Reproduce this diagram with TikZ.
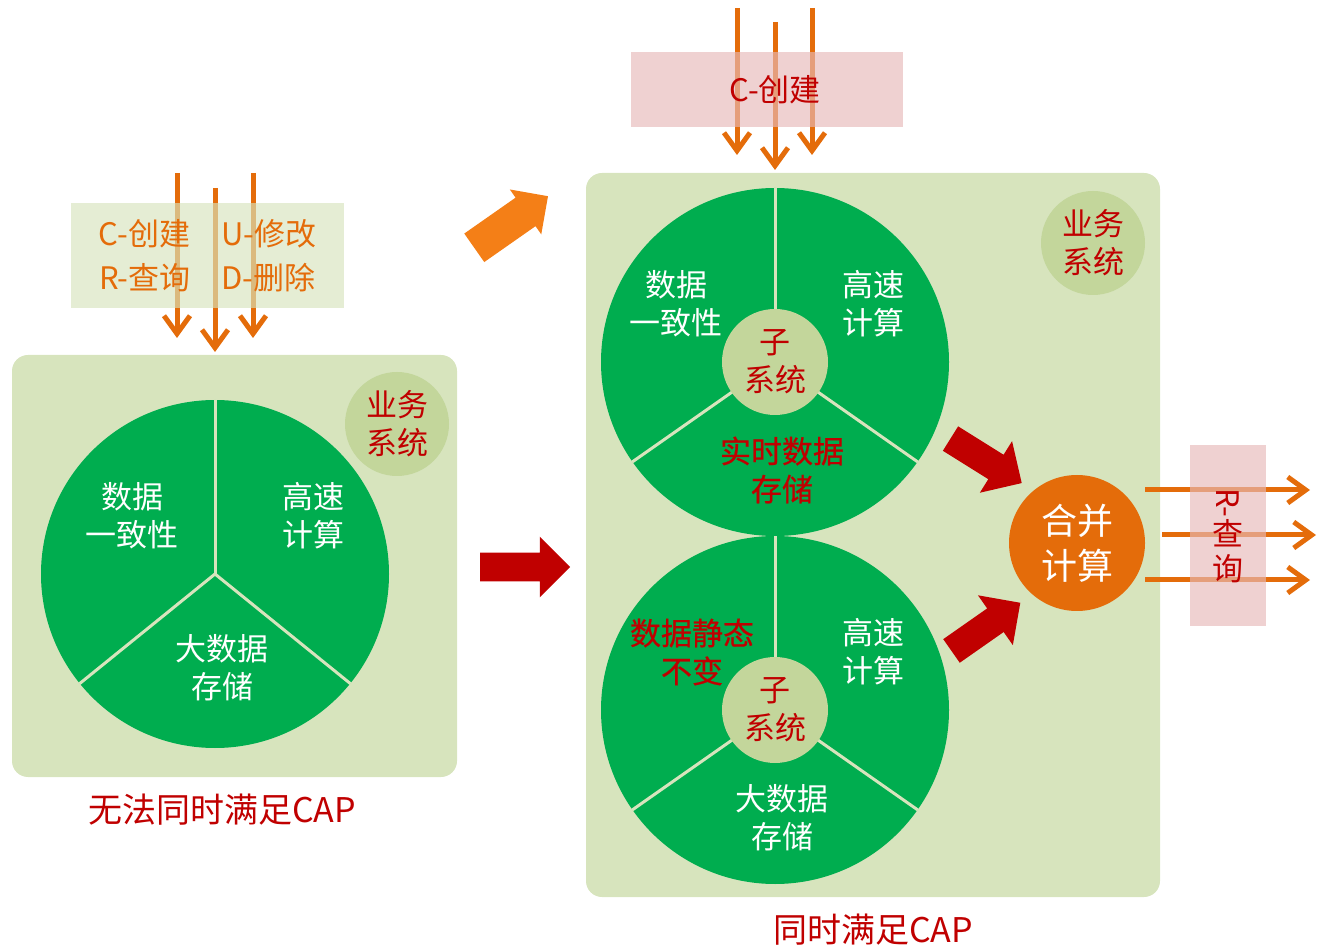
\documentclass[tikz,border=0pt]{standalone}
\usepackage{fontspec}
\setmainfont{Noto Sans CJK SC}
\newfontfamily\hotfamily{Noto Sans CJK SC}[FakeBold=0.6]
\usepackage{tikz}
\usetikzlibrary{positioning,calc,shapes,shapes.arrows,arrows.meta}
\definecolor{panelgreen}{RGB}{215,228,189}
\definecolor{piegreen}{RGB}{0,173,79}
\definecolor{subgreen}{RGB}{195,214,155}
\definecolor{myorange}{RGB}{228,108,10}
\definecolor{lightorange}{RGB}{244,127,23}
\definecolor{darkred}{RGB}{192,0,0}
\definecolor{mypink}{RGB}{230,185,184}
\newcommand*\labelfont{\fontsize{15.5}{19}\selectfont}
\newcommand*\capfont{\fontsize{17}{20}\selectfont}
\tikzstyle{panel}=[fill=panelgreen,rounded corners=8pt]
\tikzstyle{pie}=[circle,fill=piegreen,minimum size=174pt,inner sep=0pt]
\tikzstyle{divider}=[draw=panelgreen,line width=1.5pt]
\tikzstyle{sub}=[circle,fill=subgreen,minimum size=53pt,inner sep=0pt,text=darkred,align=center,font=\labelfont]
\tikzstyle{inpie}=[text=white,align=center,font=\labelfont]
\tikzstyle{hot}=[text=darkred,align=center,font=\labelfont\hotfamily]
\tikzstyle{crud}=[-{Straight Barb[length=9pt,width=13pt]},myorange,line width=2.5pt]
\tikzstyle{crudbox}=[fill opacity=0.65,text opacity=1,inner sep=0pt,align=center,font=\labelfont]
\tikzstyle{fatarrow}=[single arrow,fill=darkred,inner xsep=0pt,inner ysep=7pt,minimum height=45pt,minimum width=30pt,single arrow head extend=8pt]
\tikzstyle{caption}=[text=darkred,font=\capfont]

\begin{document}
\begin{tikzpicture}[x=0.5pt,y=-0.5pt]
  \useasboundingbox (0,0) rectangle (1317,951);
  % panels
  \fill[panel] (12,355) rectangle (457,777);
  \fill[panel] (586,173) rectangle (1160,897);
  % left pie
  \node (pieL) [pie] at (215,574) {};
  \draw[divider] (pieL.center) -- (pieL.90);
  \draw[divider] (pieL.center) -- (pieL.219);
  \draw[divider] (pieL.center) -- (pieL.-39);
  \node (consL) [inpie] at (132,516) {数据\\一致性};
  \node (fastL) [inpie] at (313,516) {高速\\计算};
  \node (bigL) [inpie] at (222,668) {大数据\\存储};
  \node (bizL) [sub,minimum size=52pt] at (397,424) {业务\\系统};
  % right pies
  \node (pieA) [pie] at (775,362) {};
  \node (pieB) [pie] at (775,710) {};
  \foreach \p in {pieA,pieB} {
    \draw[divider] (\p.center) -- (\p.90);
    \draw[divider] (\p.center) -- (\p.215);
    \draw[divider] (\p.center) -- (\p.-35);
  }
  \node (subA) [sub] at (pieA) {子\\系统};
  \node (subB) [sub] at (pieB) {子\\系统};
  \node (consA) [inpie] at (676,304) {数据\\一致性};
  \node (fastA) [inpie] at (873,304) {高速\\计算};
  \node (realA) [hot] at (782,470) {实时数据\\存储};
  \node (statB) [hot] at (692,652) {数据静态\\不变};
  \node (fastB) [inpie] at (873,652) {高速\\计算};
  \node (bigB) [inpie] at (782,818) {大数据\\存储};
  \node (bizR) [sub,minimum size=52pt] at (1093,243) {业务\\系统};
  \node (merge) [circle,fill=myorange,minimum size=68pt,inner sep=0pt,text=white,align=center,font=\fontsize{18}{22.5}\selectfont] at (1077,543) {合并\\计算};
  % crud arrows, left
  \foreach \x/\t/\h [count=\i] in {177/173/338,215/188/352,253/173/338} {
    \coordinate (ls\i) at (\x,\t);
    \coordinate (le\i) at (\x,\h);
    \draw[crud] (ls\i) -- (le\i);
  }
  \node (crudL) [crudbox,fill=panelgreen,text=myorange,minimum width=136.5pt,minimum height=52.5pt] at (207.5,255.5) {C-创建\quad U-修改\\[3pt]R-查询\quad D-删除};
  % create arrows, right
  \foreach \x/\t/\h [count=\i] in {737/8/155,775/22/170,812/8/155} {
    \coordinate (cs\i) at (\x,\t);
    \coordinate (ce\i) at (\x,\h);
    \draw[crud] (cs\i) -- (ce\i);
  }
  \node (create) [crudbox,fill=mypink,text=darkred,minimum width=136pt,minimum height=37.5pt] at (767,89.5) {\hspace*{8pt}C-创建};
  % query arrows
  \foreach \s/\e/\y [count=\i] in {1145/1310/490,1162/1316/535,1145/1310/580} {
    \coordinate (qs\i) at (\s,\y);
    \coordinate (qe\i) at (\e,\y);
    \draw[crud] (qs\i) -- (qe\i);
  }
  \node (query) [crudbox,fill=mypink,text=darkred,minimum width=38pt,minimum height=90.5pt,font=\fontsize{15.5}{17.5}\selectfont] at (1228,535.5) {\rotatebox{-90}{R-}\\查\\询};
  % fat arrows
  \node (toup) [fatarrow,fill=lightorange,rotate=35,minimum height=45pt,minimum width=27pt,inner ysep=8.5pt,single arrow head extend=5pt] at (504,227) {};
  \node (toright) [fatarrow] at (518,567) {};
  \node (mergeA) [fatarrow,rotate=-32,minimum height=42pt] at (980,457) {};
  \node (mergeB) [fatarrow,rotate=35,minimum height=42pt] at (980,631) {};
  % captions
  \node (capL) [caption] at (222,810) {无法同时满足CAP};
  \node (capR) [caption] at (873,930) {同时满足CAP};
\end{tikzpicture}
\end{document}
